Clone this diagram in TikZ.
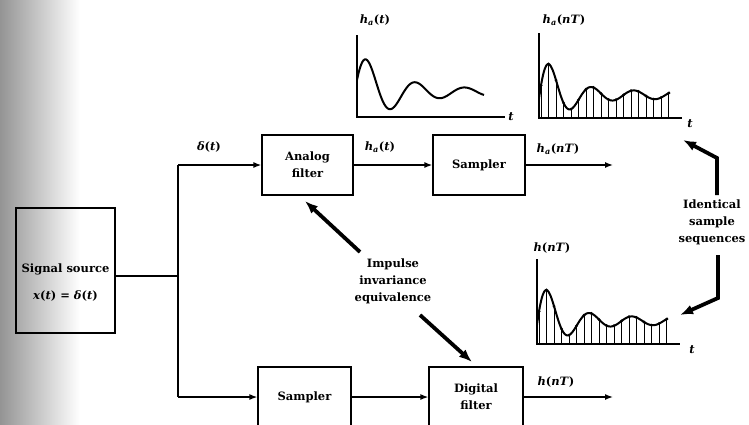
\documentclass[tikz,border=0pt]{standalone}
\usepackage{fontspec}
\setmainfont{DejaVu Serif}
\usetikzlibrary{arrows.meta,calc}

\begin{document}
\begin{tikzpicture}[x=1pt,y=-1pt,
  every node/.style={font=\bfseries\fontsize{11.5}{17}\selectfont, inner sep=1pt},
  block/.style={draw, line width=1.2pt, inner sep=0pt, align=center},
  txt/.style={align=center},
  conn/.style={line width=1.4pt, -{Latex[length=8pt,width=6pt]}},
  wire/.style={line width=1.4pt},
  fat/.style={line width=3.8pt, -{Latex[length=13pt,width=10pt]}},
  axis/.style={line width=1.1pt},
  wave/.style={line width=2pt, line join=round},
  stem/.style={line width=0.8pt},
  declare function={
    cf(\u)=-25-(3+29*exp(-0.03*(\u-10)))*cos(7.3469*(\u-10));
    sf(\u)=-23-(4+26*exp(-0.045*(\u-11)))*cos(8.5714*(\u-11));
  },
  sampled/.pic={
    \draw[axis] (0,-85) -- (0,0) -- (143,0);
    \foreach \s in {2,9.5,...,130}{
      \draw[stem] (\s,0) -- (\s,{sf(\s)});
      \fill (\s,{sf(\s)}) circle (1.6);
    }
    \draw[wave] plot[domain=0:131, samples=90, smooth] (\x,{sf(\x)});
  }
]
\useasboundingbox (0,0) rectangle (749,424);
\clip (0,0) rectangle (749,424);
\shade[left color=black!42, right color=white] (0,0) rectangle (80,424);

% blocks
\node[block, minimum width=99, minimum height=125] (src) at (65.5,270.5) {};
\node[txt] (srct) at (65.5,283) {Signal source\\[10pt]\textit{x}(\textit{t}) = \textit{δ}(\textit{t})};
\node[block, minimum width=91, minimum height=60] (afilt) at (307.5,165) {Analog\\filter};
\node[block, minimum width=92, minimum height=60] (samp1) at (479,165) {Sampler};
\node[block, minimum width=93, minimum height=60] (samp2) at (304.5,397) {Sampler};
\node[block, minimum width=94, minimum height=60] (dfilt) at (476,397) {Digital\\filter};

% wiring
\coordinate (j) at (178,276);
\coordinate (jt) at (178,165);
\coordinate (jb) at (178,397);
\coordinate (o1) at (613,165);
\coordinate (o2) at (613,397);
\draw[wire] (src.east |- j) -- (j);
\draw[wire] (jt) -- (jb);
\draw[conn] (jt) -- (afilt);
\draw[conn] (jb) -- (samp2);
\draw[conn] (afilt) -- (samp1);
\draw[conn] (samp1) -- (o1);
\draw[conn] (samp2) -- (dfilt);
\draw[conn] (dfilt) -- (o2);

% connector labels
\node (lbd) at (209,147) {\textit{δ}(\textit{t})};
\node (lha) at (380,147) {\textit{h}\textsubscript{\textit{a}}(\textit{t})};
\node (lhan) at (558,149) {\textit{h}\textsubscript{\textit{a}}(\textit{nT})};
\node (lhn) at (556,382) {\textit{h}(\textit{nT})};

% continuous plot
\begin{scope}[shift={(357,117)}]
  \draw[axis] (0,-82) -- (0,0) -- (148,0);
  \draw[wave] plot[domain=0:127, samples=100, smooth] (\x,{cf(\x)});
\end{scope}
\node (lp1) at (375,20) {\textit{h}\textsubscript{\textit{a}}(\textit{t})};
\node (lt1) at (511,117) {\textit{t}};

% sampled plots
\pic at (539,118) {sampled};
\node (lp2) at (564,20) {\textit{h}\textsubscript{\textit{a}}(\textit{nT})};
\node (lt2) at (690,124) {\textit{t}};
\pic at (537,344) {sampled};
\node (lp3) at (552,248) {\textit{h}(\textit{nT})};
\node (lt3) at (692,350) {\textit{t}};

% annotations
\node[txt] (imp) at (393,281) {Impulse\\invariance\\equivalence};
\node[txt] (ident) at (712,222) {Identical\\sample\\sequences};

\coordinate (a1s) at (360,252);
\coordinate (a1e) at (305,201);
\coordinate (a2s) at (420,315);
\coordinate (a2e) at (472,362);
\coordinate (a3s) at (717,195);
\coordinate (a3m) at (717,158);
\coordinate (a3e) at (683,140);
\coordinate (a4s) at (718,255);
\coordinate (a4m) at (718,298);
\coordinate (a4e) at (680,315);
\draw[fat] (a1s) -- (a1e);
\draw[fat] (a2s) -- (a2e);
\draw[fat] (a3s) -- (a3m) -- (a3e);
\draw[fat] (a4s) -- (a4m) -- (a4e);
\end{tikzpicture}
\end{document}
